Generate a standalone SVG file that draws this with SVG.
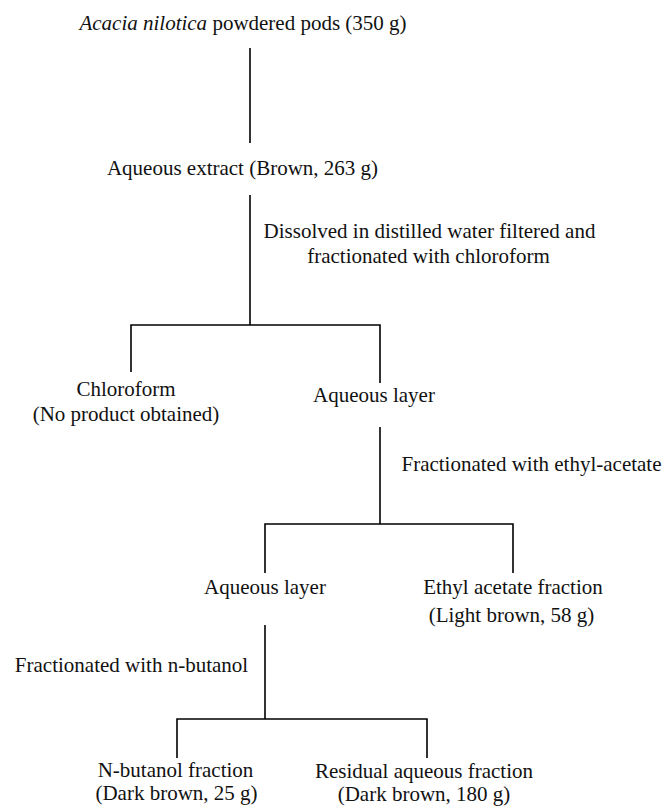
<svg xmlns="http://www.w3.org/2000/svg" width="668" height="806" viewBox="0 0 668 806">
<style>
text{font-family:"Liberation Serif","Times New Roman",serif;font-size:21px;fill:#111;text-anchor:middle}
.c line,.c polyline{stroke:#000;stroke-width:1.6;fill:none}
</style>
<rect width="668" height="806" fill="#fff"/>
<g class="c" id="connectors">
<line x1="250" y1="48" x2="250" y2="143"/>
<line x1="250" y1="195" x2="250" y2="325"/>
<polyline points="131,372 131,325 380,325 380,383"/>
<line x1="380" y1="427" x2="380" y2="524"/>
<polyline points="265,573 265,524 513,524 513,573"/>
<line x1="265" y1="625" x2="265" y2="719"/>
<polyline points="177,758 177,719 427,719 427,758"/>
</g>
<g id="n1"><text x="243" y="30"><tspan font-style="italic">Acacia nilotica</tspan> powdered pods (350 g)</text></g>
<g id="n2"><text x="242.5" y="175">Aqueous extract (Brown, 263 g)</text></g>
<g id="l1"><text x="429.5" y="238">Dissolved in distilled water filtered and</text><text x="428.5" y="263">fractionated with chloroform</text></g>
<g id="n3"><text x="126" y="396">Chloroform</text><text x="126" y="421">(No product obtained)</text></g>
<g id="n4"><text x="374" y="402">Aqueous layer</text></g>
<g id="l2"><text x="531.5" y="471">Fractionated with ethyl-acetate</text></g>
<g id="n5"><text x="265" y="594">Aqueous layer</text></g>
<g id="n6"><text x="513" y="594">Ethyl acetate fraction</text><text x="511.5" y="622">(Light brown, 58 g)</text></g>
<g id="l3"><text x="131.5" y="672">Fractionated with n-butanol</text></g>
<g id="n7"><text x="175.5" y="777">N-butanol fraction</text><text x="176.5" y="800">(Dark brown, 25 g)</text></g>
<g id="n8"><text x="424" y="778">Residual aqueous fraction</text><text x="424" y="801">(Dark brown, 180 g)</text></g>
</svg>
